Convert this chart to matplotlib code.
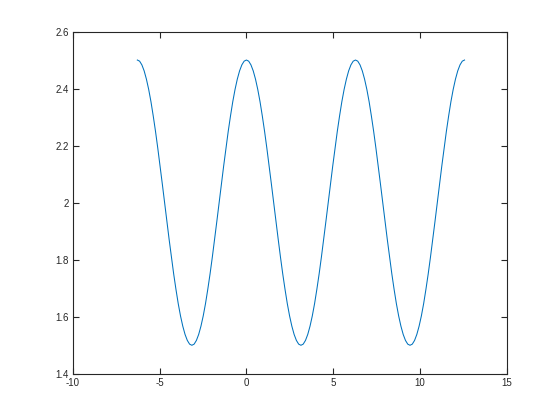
import matplotlib
matplotlib.use("Agg")
import matplotlib.pyplot as plt

x_vals = [-6.283, -6.152, -6.021, -5.890, -5.760, -5.629, -5.498, -5.367, -5.236, -5.105,
          -4.974, -4.843, -4.712, -4.581, -4.451, -4.320, -4.189, -4.058, -3.927, -3.796,
          -3.665, -3.534, -3.403, -3.272, -3.142, -3.011, -2.880, -2.749, -2.618, -2.487,
          -2.356, -2.225, -2.094, -1.963, -1.833, -1.702, -1.571, -1.440, -1.309, -1.178,
          -1.047, -0.916, -0.785, -0.654, -0.524, -0.393, -0.262, -0.131,
          0.000, 0.131, 0.262, 0.393, 0.524, 0.654, 0.785, 0.916, 1.047, 1.178,
          1.309, 1.440, 1.571, 1.702, 1.833, 1.963, 2.094, 2.225, 2.356, 2.487,
          2.618, 2.749, 2.880, 3.011, 3.142, 3.272, 3.403, 3.534, 3.665, 3.796,
          3.927, 4.058, 4.189, 4.320, 4.451, 4.581, 4.712, 4.843, 4.974, 5.105,
          5.236, 5.367, 5.498, 5.629, 5.760, 5.890, 6.021, 6.152,
          6.283, 6.414, 6.545, 6.676, 6.807, 6.938, 7.069, 7.199, 7.330, 7.461,
          7.592, 7.723, 7.854, 7.985, 8.116, 8.247, 8.378, 8.508, 8.639, 8.770,
          8.901, 9.032, 9.163, 9.294, 9.425, 9.556, 9.687, 9.817, 9.948, 10.079,
          10.210, 10.341, 10.472, 10.603, 10.734, 10.865, 10.996, 11.126, 11.257, 11.388,
          11.519, 11.650, 11.781, 11.912, 12.043, 12.174, 12.305, 12.435, 12.566]
y_vals = [2.500, 2.496, 2.483, 2.462, 2.433, 2.397, 2.354, 2.304, 2.250, 2.191,
          2.129, 2.065, 2.000, 1.935, 1.871, 1.809, 1.750, 1.696, 1.646, 1.603,
          1.567, 1.538, 1.517, 1.504, 1.500, 1.504, 1.517, 1.538, 1.567, 1.603,
          1.646, 1.696, 1.750, 1.809, 1.871, 1.935, 2.000, 2.065, 2.129, 2.191,
          2.250, 2.304, 2.354, 2.397, 2.433, 2.462, 2.483, 2.496,
          2.500, 2.496, 2.483, 2.462, 2.433, 2.397, 2.354, 2.304, 2.250, 2.191,
          2.129, 2.065, 2.000, 1.935, 1.871, 1.809, 1.750, 1.696, 1.646, 1.603,
          1.567, 1.538, 1.517, 1.504, 1.500, 1.504, 1.517, 1.538, 1.567, 1.603,
          1.646, 1.696, 1.750, 1.809, 1.871, 1.935, 2.000, 2.065, 2.129, 2.191,
          2.250, 2.304, 2.354, 2.397, 2.433, 2.462, 2.483, 2.496,
          2.500, 2.496, 2.483, 2.462, 2.433, 2.397, 2.354, 2.304, 2.250, 2.191,
          2.129, 2.065, 2.000, 1.935, 1.871, 1.809, 1.750, 1.696, 1.646, 1.603,
          1.567, 1.538, 1.517, 1.504, 1.500, 1.504, 1.517, 1.538, 1.567, 1.603,
          1.646, 1.696, 1.750, 1.809, 1.871, 1.935, 2.000, 2.065, 2.129, 2.191,
          2.250, 2.304, 2.354, 2.397, 2.433, 2.462, 2.483, 2.496, 2.500]

x_ticks = [-10, -5, 0, 5, 10, 15]
x_labels = ["-10", "-5", "0", "5", "10", "15"]
y_ticks = [1.4, 1.6, 1.8, 2.0, 2.2, 2.4, 2.6]
y_labels = ["1.4", "1.6", "1.8", "2", "2.2", "2.4", "2.6"]

plt.rcParams['font.family'] = ['Liberation Sans', 'DejaVu Sans']
fig = plt.figure(figsize=(5.6, 4.2), dpi=100)
ax = fig.add_axes([0.13, 0.11, 0.775, 0.815])
ax.plot(x_vals, y_vals, color='#0072BD', linewidth=0.75)
ax.set_xlim(-10, 15)
ax.set_ylim(1.4, 2.6)
ax.set_xticks(x_ticks)
ax.set_xticklabels(x_labels)
ax.set_yticks(y_ticks)
ax.set_yticklabels(y_labels)
dark = '#262626'
for s in ax.spines.values():
    s.set_color(dark)
    s.set_linewidth(0.8)
ax.tick_params(direction='in', length=4, width=0.8, colors=dark, labelsize=7,
               top=True, right=True, pad=3)
fig.savefig("out.png", dpi=100)
